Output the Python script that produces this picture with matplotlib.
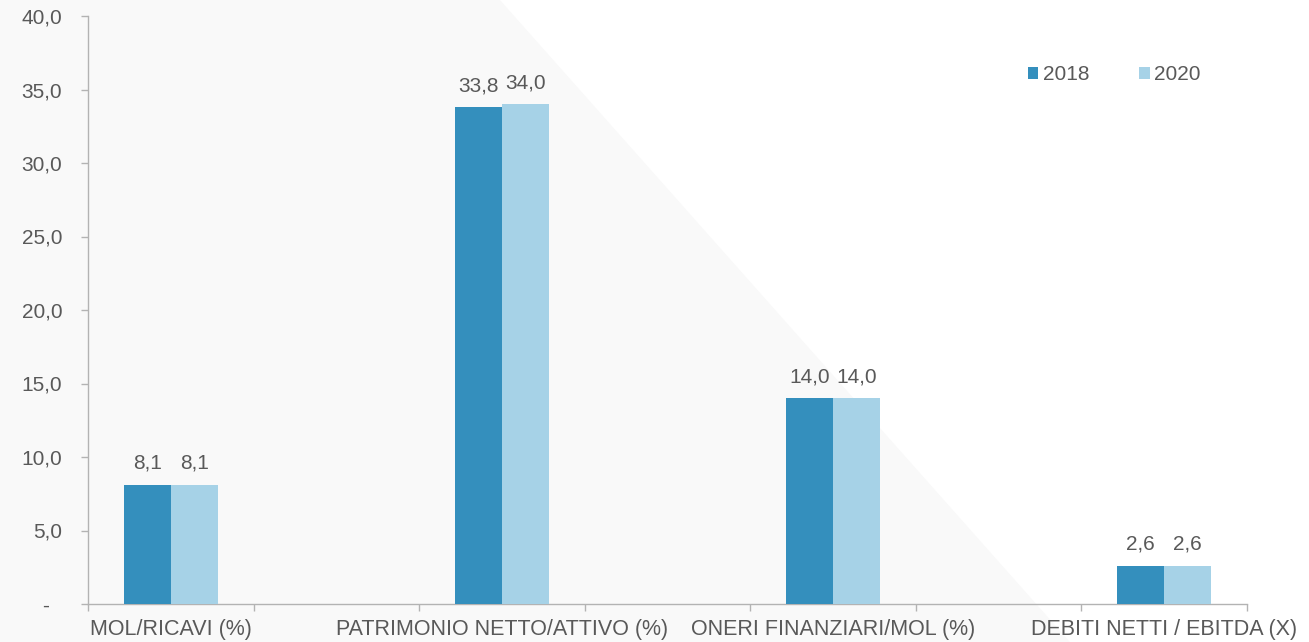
import matplotlib
matplotlib.use("Agg")
import matplotlib.pyplot as plt
from matplotlib.patches import Polygon, Patch
from matplotlib.transforms import ScaledTranslation
import numpy as np

categories = ["MOL/RICAVI (%)", "", "PATRIMONIO NETTO/ATTIVO (%)", "",
              "ONERI FINANZIARI/MOL (%)", "", "DEBITI NETTI / EBITDA (X)"]
values_2018 = [8.1, None, 33.8, None, 14.0, None, 2.6]
values_2020 = [8.1, None, 34.0, None, 14.0, None, 2.6]
series_names = ["2018", "2020"]
y_ticks = [0, 5, 10, 15, 20, 25, 30, 35, 40]
y_tick_labels = ["-", "5,0", "10,0", "15,0", "20,0", "25,0", "30,0", "35,0", "40,0"]

dark = "#348fbd"
light = "#a6d2e7"
text_col = "#595959"
spine_col = "#b3b3b3"

plt.rcParams['font.family'] = ['Liberation Sans', 'DejaVu Sans']

W, H = 1309, 642
fig = plt.figure(figsize=(W / 100, H / 100), dpi=100)
fig.patch.set_facecolor("white")

# faint background shape
bg = Polygon([(0, 1), (500 / W, 1), (1070 / W, 0), (0, 0)], closed=True,
             transform=fig.transFigure, facecolor="#f9f9f9", edgecolor="none", zorder=-10)
fig.patches.append(bg)

ax = fig.add_axes([88 / W, 1 - 604 / H, (1247 - 88) / W, (604 - 16) / H], zorder=1)
ax.patch.set_alpha(0)

x = np.arange(len(categories))
bw = 0.284
v18 = [np.nan if v is None else v for v in values_2018]
v20 = [np.nan if v is None else v for v in values_2020]
b1 = ax.bar(x - bw / 2, v18, bw, color=dark, label=series_names[0], zorder=3)
b2 = ax.bar(x + bw / 2, v20, bw, color=light, label=series_names[1], zorder=3)

def fmt(v):
    return f"{v:.1f}".replace(".", ",")

for xs, vals in ((x - bw / 2, v18), (x + bw / 2, v20)):
    for xi, v in zip(xs, vals):
        if np.isnan(v):
            continue
        ax.annotate(fmt(v), (xi, v), xytext=(0, 11.5), textcoords="offset points",
                    ha="center", va="baseline", fontsize=15, color=text_col)

ax.set_xlim(-0.5, len(categories) - 0.5)
ax.set_ylim(0, 40)
ax.set_yticks(y_ticks)
ax.set_yticklabels(y_tick_labels)
ax.set_xticks(x)
ax.set_xticklabels(categories)
ax.set_xticks(np.arange(len(categories) + 1) - 0.5, minor=True)

ax.tick_params(axis="x", which="major", length=0, pad=10.5, labelsize=15.5, labelcolor=text_col)
ax.tick_params(axis="x", which="minor", length=5, width=1, color=spine_col, direction="out")
ax.tick_params(axis="y", which="major", length=5, width=1, color=spine_col, pad=13.5,
               labelsize=15, labelcolor=text_col, direction="out")

# accounting-style dash for zero sits one digit to the left
zero_lbl = ax.get_yticklabels()[0]
zero_lbl.set_transform(zero_lbl.get_transform() + ScaledTranslation(-0.13, 0, fig.dpi_scale_trans))

for s in ("top", "right"):
    ax.spines[s].set_visible(False)
for s in ("left", "bottom"):
    ax.spines[s].set_color(spine_col)
    ax.spines[s].set_linewidth(1)

handles = [Patch(facecolor=dark, edgecolor="none"), Patch(facecolor=light, edgecolor="none")]
fig.legend(handles, series_names, loc="center left", bbox_to_anchor=(1028 / W, 1 - 75 / H),
           bbox_transform=fig.transFigure, ncol=2, frameon=False, fontsize=15,
           handlelength=0.5, handleheight=0.5, handletextpad=0.2, columnspacing=2.4,
           borderpad=0, borderaxespad=0, labelcolor=text_col)

fig.savefig("out.png", dpi=100, facecolor="white")
